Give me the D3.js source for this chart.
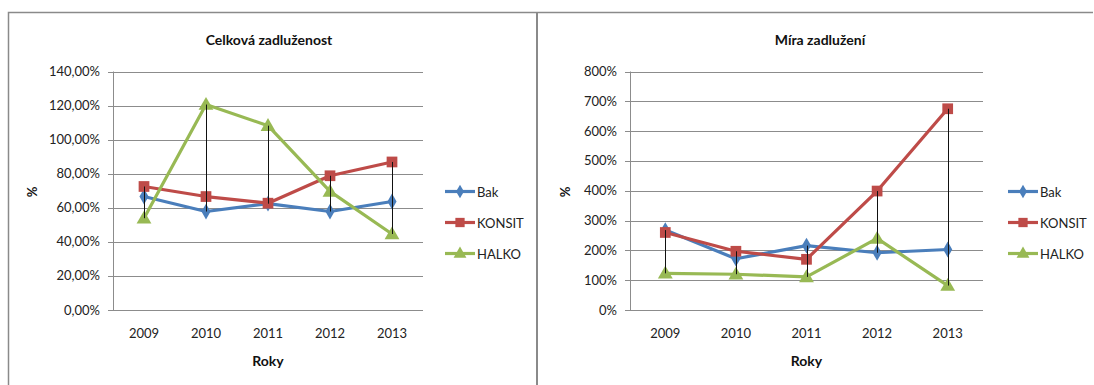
<!DOCTYPE html>
<html>
<head>
<meta charset="utf-8">
<script src="https://cdn.jsdelivr.net/npm/d3@7"></script>
<style>
  html, body { margin: 0; padding: 0; background: #fff; }
  svg { display: block; font-family: Lato, "Open Sans", sans-serif; }
</style>
</head>
<body>
<svg id="chart" width="1094" height="385"></svg>
<script>
// Years on the category axis
const years = ["2009", "2010", "2011", "2012", "2013"];
const seriesNames = ["Bak", "KONSIT", "HALKO"];

// Celková zadluženost (%)
const celkovaBak    = [66.6, 57.8, 62.4, 57.8, 63.7];
const celkovaKonsit = [72.5, 66.6, 62.7, 78.8, 86.9];
const celkovaHalko  = [53.9, 120.6, 108.2, 69.6, 44.6];
const celkovaTicks  = [0, 20, 40, 60, 80, 100, 120, 140];

// Míra zadlužení (%)
const miraBak    = [268, 172, 216, 192, 203];
const miraKonsit = [260, 197, 170, 399, 675];
const miraHalko  = [123, 120, 111, 240, 82];
const miraTicks  = [0, 100, 200, 300, 400, 500, 600, 700, 800];

const colors = { Bak: "#4A7EBB", KONSIT: "#BE4B48", HALKO: "#98B954" };
const symbols = { Bak: d3.symbolDiamond, KONSIT: d3.symbolSquare, HALKO: d3.symbolTriangle };
const symbolSize = { Bak: 72, KONSIT: 115, HALKO: 95 };

const svg = d3.select("#chart");

// Panel frames
svg.append("path")
  .attr("d", "M8.5,385 V12.5 H1093")
  .attr("fill", "none").attr("stroke", "#8a8a8a").attr("stroke-width", 1.5);
svg.append("line")
  .attr("x1", 537).attr("x2", 537).attr("y1", 12).attr("y2", 385)
  .attr("stroke", "#8a8a8a").attr("stroke-width", 2);

function drawChart(cfg) {
  const g = svg.append("g");
  const x = d3.scaleBand().domain(years).range([cfg.left, cfg.right]);
  const y = d3.scaleLinear().domain([0, cfg.max]).range([310, 71.5]);

  // gridlines
  g.append("g").selectAll("line").data(cfg.ticks).join("line")
    .attr("x1", cfg.left - 5).attr("x2", cfg.right)
    .attr("y1", d => Math.round(y(d)) + 0.5).attr("y2", d => Math.round(y(d)) + 0.5)
    .attr("stroke", "#8c8c8c").attr("stroke-width", 1);

  // value axis line
  g.append("line")
    .attr("x1", cfg.left + 0.5).attr("x2", cfg.left + 0.5)
    .attr("y1", y(cfg.max)).attr("y2", 310.5)
    .attr("stroke", "#8c8c8c");

  // tick labels
  g.append("g").selectAll("text").data(cfg.ticks).join("text")
    .attr("x", cfg.left - 13).attr("y", d => y(d) + 4.5)
    .attr("text-anchor", "end").attr("font-size", 13).attr("fill", "#222")
    .text(cfg.fmt);

  g.append("g").selectAll("text").data(years).join("text")
    .attr("x", d => x(d) + x.bandwidth() / 2).attr("y", 338)
    .attr("text-anchor", "middle").attr("font-size", 13).attr("fill", "#222")
    .text(d => d);

  // titles
  g.append("text").attr("x", cfg.titleX).attr("y", 45)
    .attr("text-anchor", "middle").attr("font-size", 14).attr("font-weight", "bold")
    .attr("fill", "#111").text(cfg.title);
  g.append("text").attr("x", (cfg.left + cfg.right) / 2).attr("y", 366)
    .attr("text-anchor", "middle").attr("font-size", 14).attr("font-weight", "bold")
    .attr("fill", "#111").text("Roky");
  g.append("text")
    .attr("transform", `translate(${cfg.pctX},192) rotate(-90)`)
    .attr("text-anchor", "middle").attr("font-size", 13).attr("font-weight", "bold")
    .attr("fill", "#111").text("%");

  const series = seriesNames.map((n, i) => ({ name: n, values: cfg.data[i] }));
  const line = d3.line()
    .x((d, i) => x(years[i]) + x.bandwidth() / 2)
    .y(d => y(d));

  series.forEach(s => {
    g.append("path").datum(s.values)
      .attr("d", line).attr("fill", "none")
      .attr("stroke", colors[s.name]).attr("stroke-width", 3.2)
      .attr("stroke-linejoin", "round");
  });
  series.forEach(s => {
    g.append("g").selectAll("path").data(s.values).join("path")
      .attr("transform", (d, i) => `translate(${x(years[i]) + x.bandwidth() / 2},${y(d) + (s.name === "HALKO" ? 1 : 0)})`)
      .attr("d", d3.symbol(symbols[s.name], symbolSize[s.name]))
      .attr("fill", colors[s.name]);
  });

  // high-low lines
  g.append("g").selectAll("line").data(years).join("line")
    .attr("x1", d => Math.round(x(d) + x.bandwidth() / 2) + 0.5)
    .attr("x2", d => Math.round(x(d) + x.bandwidth() / 2) + 0.5)
    .attr("y1", (d, i) => y(d3.max(series, s => s.values[i])))
    .attr("y2", (d, i) => y(d3.min(series, s => s.values[i])))
    .attr("stroke", "#111").attr("stroke-width", 1);

  // legend
  const lg = g.append("g").selectAll("g").data(seriesNames).join("g")
    .attr("transform", (d, i) => `translate(${cfg.legendX},${191.5 + i * 31})`);
  lg.append("line").attr("x1", 0).attr("x2", 30).attr("y1", 0).attr("y2", 0)
    .attr("stroke", d => colors[d]).attr("stroke-width", 3.2);
  lg.append("path").attr("transform", d => `translate(15,${d === "HALKO" ? 0.5 : 0})`)
    .attr("d", d => d3.symbol(symbols[d], symbolSize[d] * 0.75)())
    .attr("fill", d => colors[d]);
  lg.append("text").attr("x", 32).attr("y", 5).attr("font-size", 13)
    .attr("fill", "#222").text(d => d);
}

drawChart({
  left: 113, right: 423, max: 140, ticks: celkovaTicks,
  fmt: d => d.toFixed(2).replace(".", ",") + "%",
  title: "Celková zadluženost", titleX: 269, pctX: 37, legendX: 445,
  data: [celkovaBak, celkovaKonsit, celkovaHalko]
});

drawChart({
  left: 630, right: 983, max: 800, ticks: miraTicks,
  fmt: d => d + "%",
  title: "Míra zadlužení", titleX: 820, pctX: 570, legendX: 1008,
  data: [miraBak, miraKonsit, miraHalko]
});
</script>
</body>
</html>
